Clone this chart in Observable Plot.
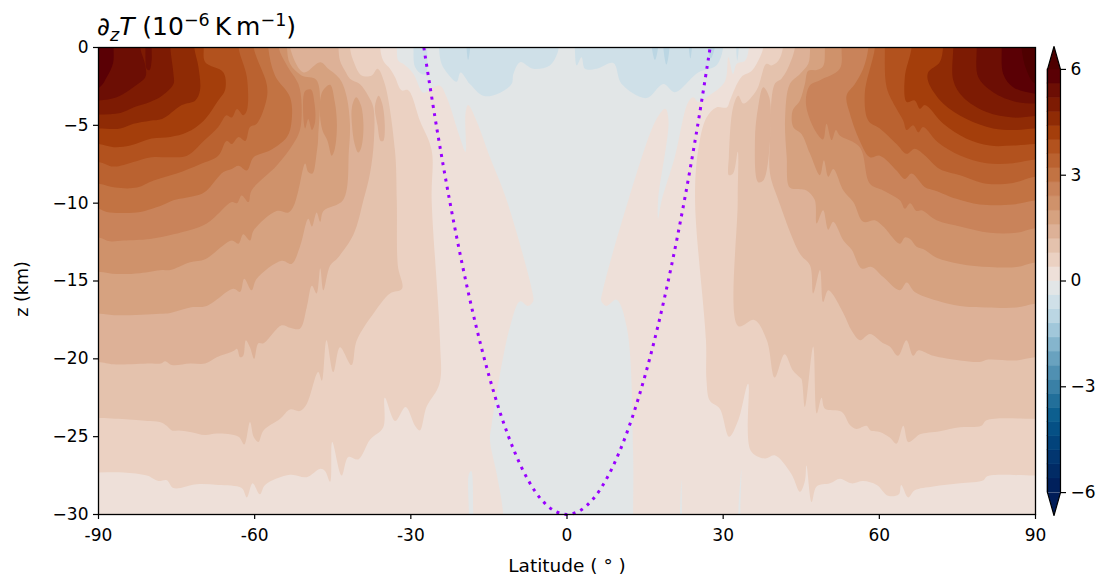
<!DOCTYPE html>
<html><head><meta charset="utf-8">
<script src="https://cdn.jsdelivr.net/npm/d3@7"></script>
<script src="https://cdn.jsdelivr.net/npm/@observablehq/plot@0.6"></script>
<style>
html,body{margin:0;padding:0;background:#fff}
#c{position:relative;width:1111px;height:582px;font-family:"DejaVu Sans",sans-serif;overflow:hidden}
#c svg{position:absolute;left:0;top:0;background:transparent}
#t{position:absolute;left:97px;top:13px;font-size:25px;line-height:28px;color:#000;white-space:nowrap}
#t sub,#t sup{font-size:17.5px;line-height:0}
</style></head><body><div id="c"><div id="t"><i>∂<sub>z</sub>T</i> (10<sup>−6</sup>&#8201;K&#8201;m<sup>−1</sup>)</div></div>
<script>
const levels=[-6,-5.6,-5.2,-4.8,-4.4,-4,-3.6,-3.2,-2.8,-2.4,-2,-1.6,-1.2,-0.8,-0.4,0,0.4,0.8,1.2,1.6,2,2.4,2.8,3.2,3.6,4,4.4,4.8,5.2,5.6,6];
const bandColors=["#001c58","#00205c","#012b65","#023670","#02437b","#055085","#0d5f8f","#226f9a","#3a80a6","#5090b2","#69a2bf","#85b5cd","#a1c7da","#bbd6e3","#cfe0e8","#e2e6e7",
"#eee0d9","#ebd1c2","#e4c2ad","#ddb197","#d6a280","#cf926b","#c9835a","#c27343","#ba6230","#b2521e","#a43e0b","#8f2b05","#7d1b03","#6c0e04","#5a0005","#4e0000"];
const xTicks=[-90,-60,-30,0,30,60,90], yTicks=[0,-5,-10,-15,-20,-25,-30], barTicks=[-6,-3,0,3,6];
// dotted parabola (lat, z)
const edgeLat=[-27.5,-25,-22.5,-20,-17.5,-15,-12.5,-10,-7.5,-5,-2.5,0,2.5,5,7.5,10,12.5,15,17.5,20,22.5,25,27.5];
const edgeZ=[0,-5.21,-9.92,-14.13,-17.85,-21.07,-23.8,-26.03,-27.77,-29.01,-29.75,-30,-29.75,-29.01,-27.77,-26.03,-23.8,-21.07,-17.85,-14.13,-9.92,-5.21,0];
// contour outlines: [latitude, z]
const L56=[[-87.1,0],[-87.2,-1],[-88.4,-1.9],[-90,-2.6]];
const L52=[[-82,0],[-81,-1.15],[-81,-1.9],[-83.3,-2.55],[-86.5,-3.2],[-90,-3.4]];
const L52b=[[-81,0],[-80.7,-1.4],[-80.2,-1.45],[-79.8,-.85],[-79.8,0]];
const L48=[[-76.2,0],[-75.6,-1.7],[-75.6,-2.35],[-77.8,-3.1],[-80.1,-3.5],[-83.3,-3.85],[-85.8,-4.2],[-90,-4.3]];
const L44=[[-71.6,0],[-70.8,-1.25],[-70.5,-2.75],[-71.4,-3.4],[-74,-3.7],[-77.8,-4.6],[-80.1,-4.7],[-83.3,-4.9],[-85.8,-5.2],[-90,-5.2]];
const L40=[[-69.8,0],[-69.5,-.95],[-66,-1.6],[-65.7,-2.75],[-67,-3.4],[-69.8,-4.7],[-73,-5.45],[-76.2,-5.75],[-79.8,-5.85],[-83.9,-6.3],[-87.1,-6.4],[-90,-6.2]];
const L36=[[-63.1,0],[-61.5,-1.9],[-61.5,-4.05],[-62.2,-4.35],[-63.4,-3.95],[-64.4,-4.5],[-65.4,-4.35],[-67,-5.1],[-69.8,-6],[-73,-6.95],[-76.2,-7.05],[-79.8,-7.05],[-83.3,-7.35],[-87.1,-7.65],[-90,-7.35]];
const L32=[[-60.2,0],[-57.7,-2.35],[-57.7,-3.3],[-59.6,-4.9],[-60.9,-5.1],[-61.8,-6],[-63.1,-5.75],[-64.4,-6.2],[-65.4,-6],[-67,-6.95],[-70.5,-7.5],[-75,-8.1],[-79.4,-8.55],[-82.6,-9],[-86.8,-9],[-90,-8.75]];
const L28=[[-57.4,0],[-56.1,-1.8],[-53.2,-3.2],[-52.9,-4.7],[-53.8,-5.75],[-57,-6.6],[-60.2,-7.05],[-61.5,-7.9],[-63.1,-7.6],[-64.4,-7.8],[-66,-8],[-69.2,-9.18],[-70.5,-9.44],[-75.6,-9.82],[-77.8,-10.14],[-82,-10.57],[-85.8,-10.63],[-88.4,-10.57],[-90,-10.36]];
const L24=[[-55.4,0],[-53.8,-1.15],[-51.6,-2.35],[-51,-3.6],[-51.3,-5.3],[-52.6,-6.2],[-55.8,-7.6],[-60.6,-9.18],[-61.2,-9.93],[-62.5,-9.5],[-63.4,-10],[-64.4,-9.93],[-69.2,-11.3],[-75.6,-12],[-80.1,-12.3],[-85.2,-12.4],[-87.8,-12.45],[-90,-12.2]];
const L24b=[[-50.3,-2.8],[-49.2,-2.7],[-48.5,-3.6],[-48.4,-4.8],[-49,-5.3],[-49.7,-4.6],[-50.3,-5.2],[-50.7,-4]];
const L20=[[-53.8,0],[-53.2,-1.05],[-51,-1.8],[-48.1,-2.1],[-47.8,-5.75],[-48.1,-6.8],[-48.9,-8.1],[-49.7,-8],[-50.3,-7.45],[-51.6,-9.18],[-52.6,-10.25],[-53.5,-10.6],[-55.8,-10.5],[-60.2,-11.75],[-60.9,-12.4],[-62.2,-12],[-63.1,-12.6],[-64.4,-12.4],[-66,-12.7],[-69.5,-13.6],[-72.4,-13.8],[-76.2,-14.3],[-77.8,-14.3],[-82,-14.5],[-86.5,-14.55],[-90,-14.4]];
const L20b=[[-46.5,-2.6],[-45.5,-2.4],[-44.6,-3.5],[-44.2,-5],[-44.6,-6.5],[-45.2,-6.95],[-46,-6],[-47,-5.3],[-47.5,-4],[-47.2,-3]];
const L16=[[-53.2,0],[-50.6,-1.6],[-47.4,-.95],[-45.85,-1.37],[-44.25,-1.8],[-43.3,-2.2],[-42.3,-3.2],[-41.7,-4.9],[-41.9,-6.6],[-43,-9.8],[-46.8,-10.5],[-47.4,-11.2],[-48.1,-10.6],[-49,-11.5],[-49.7,-11],[-51.3,-12.8],[-52.9,-13.9],[-54.8,-13.7],[-59.6,-14.85],[-60.6,-15.6],[-62,-14.85],[-62.8,-15.7],[-64.1,-15.5],[-69.2,-16.6],[-72.4,-16.7],[-76.2,-17.05],[-78.2,-17.1],[-86.5,-17.2],[-90,-17.1]];
const L16b=[[-40.5,-3.2],[-39.6,-3.7],[-39.1,-5],[-39.5,-6.4],[-40.1,-6.75],[-40.8,-6.2],[-41.3,-5],[-41.3,-3.8]];
const L12=[[-43.9,0],[-43.6,-.85],[-42.65,-1.5],[-41.7,-2],[-39.8,-2.35],[-38.2,-3.1],[-37.2,-3.85],[-37.1,-6],[-37.85,-8.1],[-39.1,-9.8],[-41,-12],[-44,-13.5],[-45.5,-14],[-46.8,-15.6],[-47.4,-14.2],[-48.1,-15.8],[-49,-15.3],[-50,-16.7],[-51.3,-18.06],[-53.2,-18],[-54.8,-17.85],[-58.3,-19],[-59.3,-19],[-60.1,-20],[-60.9,-19.25],[-61.7,-18.8],[-62.2,-19.8],[-62.8,-19.9],[-63.4,-19.35],[-64.1,-19.5],[-67.3,-19.9],[-69.5,-20.3],[-72.4,-20.3],[-75.9,-20.4],[-77.2,-20.15],[-78,-20.3],[-80.1,-20.3],[-87.1,-20.35],[-90,-20.2]];
const L12b=[[-36.2,-3.1],[-35.5,-3.6],[-35,-5],[-35.3,-6],[-35.8,-6],[-36.4,-5],[-36.9,-3.8]];
const L08=[[-41.7,0],[-41.05,-.85],[-39.45,-1.8],[-37.5,-1.8],[-36.4,-1.37],[-35,-2.35],[-33.05,-6.6],[-32.7,-9.8],[-32.5,-14],[-31.7,-15.5],[-34,-15.8],[-37,-17],[-40.4,-18.82],[-41.4,-20.4],[-43.6,-19.25],[-44.9,-20.85],[-46.2,-18.8],[-47.1,-21.4],[-47.8,-20.85],[-50,-22.9],[-51.3,-23.35],[-53.2,-23.25],[-55.1,-23.85],[-58.3,-24.6],[-59.3,-25.35],[-60.2,-25],[-60.9,-24.05],[-62,-25.5],[-63.1,-25],[-67.3,-24.8],[-69.5,-24.9],[-72.4,-24.7],[-74.6,-24.6],[-75.9,-24.6],[-76.9,-24.3],[-77.8,-24.1],[-80.1,-24],[-90,-23.8]];
const L04=[[-35.9,0],[-35.3,-.85],[-34,-1.37],[-33.05,-1.9],[-31.8,-2.75],[-30.5,-2.75],[-28.25,-4.7],[-26,-6.6],[-26,-9.8],[-24.4,-18.82],[-24.5,-21.6],[-27,-23.1],[-28.25,-24.6],[-29.2,-24.3],[-31,-23.1],[-33,-24],[-35,-22.5],[-35.3,-24.4],[-37.85,-25.2],[-40.1,-26.46],[-42,-26.3],[-43.3,-27.5],[-45.1,-25.35],[-45.5,-27.9],[-46.5,-27.2],[-47.4,-27.06],[-50,-27.6],[-53.2,-27.45],[-58,-28.1],[-59,-28.7],[-60.4,-28],[-61.5,-28.9],[-62.5,-28.3],[-67,-28.1],[-71.1,-28.05],[-75.6,-28.3],[-76.9,-27.8],[-78.5,-27.85],[-80.7,-27.5],[-85.2,-27.3],[-90,-27.3]];
const L00=[[-32.7,0],[-32.4,-.85],[-31.45,-1.05],[-29.5,-1.7],[-27.6,-2.9],[-25.7,-2.55],[-24.4,-2.45],[-23.1,-3.2],[-20.6,-5.75],[-19.5,-6.7],[-19.5,-4.25],[-19,-3.7],[-17.4,-4.7],[-14.8,-7.05],[-11.6,-9.8],[-6.6,-15.8],[-6.5,-16.3],[-7.5,-16.6],[-9,-16.3],[-11,-18],[-14.5,-24.3],[-14.8,-25.2],[-13.5,-27.4],[-12.25,-30]];
const R60=[[87.3,0],[88.3,-1.47],[90,-2.33]];
const R56=[[83.5,0],[83.8,-1.7],[85.7,-2.55],[90,-2.97]];
const R52=[[78.7,0],[79,-1.9],[81.85,-2.87],[86.35,-3.5],[90,-3.6]];
const R48=[[74.2,0],[74.2,-2.1],[76.1,-3.2],[80.6,-4.15],[85.7,-4.5],[90,-4.4]];
const R44=[[72.25,0],[71.6,-.94],[69.4,-1.58],[69.4,-2.2],[72.25,-3.6],[76.75,-4.6],[81.85,-5.2],[86.35,-5.3],[90,-5.2]];
const R40=[[66.2,0],[64.9,-1.9],[65.25,-3.5],[66.8,-3.4],[67.8,-3.94],[68.75,-3.7],[72.3,-4.9],[76.75,-5.86],[81.2,-6.3],[85.7,-6.3],[90,-6.2]];
const R36=[[61.05,0],[61.4,-2.55],[63.3,-3.94],[64.6,-4.7],[65.25,-5.3],[66.5,-5],[67.5,-5.45],[68.4,-5.1],[71.3,-6.1],[75.5,-6.93],[80.6,-7.43],[85.7,-7.43],[90,-7.2]];
const R32=[[59.15,0],[57.2,-2.97],[57.9,-4.7],[60.1,-5.2],[63.3,-6.2],[65.25,-6.83],[66.8,-6.5],[68.75,-6.93],[71.6,-7.8],[75.5,-8.2],[80.6,-8.75],[85.7,-8.7],[90,-8.3]];
const R28=[[57.9,0],[56.9,-1.37],[55.3,-2.35],[53.7,-3.1],[54.35,-4.26],[56.25,-6],[58.2,-7.05],[60.1,-6.95],[63.3,-7.9],[64.9,-8.45],[66.2,-8.1],[68.75,-8.97],[70.65,-9.18],[74.8,-9.72],[79.3,-10.08],[85.7,-10.08],[90,-9.82]];
const R24=[[52.75,0],[52.4,-1.37],[48.6,-2.1],[46.65,-2.44],[45.9,-3.6],[47.6,-5.3],[49.2,-5.9],[49.85,-4.9],[50.85,-5.95],[51.65,-5.3],[52.4,-5.65],[56.25,-6.4],[58.2,-8.75],[60.75,-9.18],[63.95,-9.82],[64.9,-10.36],[65.9,-10],[67.15,-10.5],[68.1,-10.46],[71,-11.1],[75.5,-11.5],[81.2,-11.9],[86.35,-11.9],[90,-11.6]];
const R20=[[49.55,0],[49.2,-1.2],[47.95,-1.45],[46.35,-1.5],[45.7,-2.35],[44.75,-3.4],[43.35,-4.05],[43.45,-5.1],[45.05,-5.55],[46.65,-6.8],[48.6,-8.2],[49.35,-7.25],[50.2,-8.3],[51.15,-7.8],[53.1,-9.18],[55,-9.93],[56.9,-11.2],[59.15,-11.1],[60.75,-11.5],[63.95,-12.6],[64.9,-12.2],[65.9,-12.3],[67.15,-12.8],[68.4,-12.95],[71,-13.5],[75.5,-13.9],[81.2,-14.1],[86.35,-14.1],[90,-13.8]];
const R16=[[46.7,0],[46.35,-1.05],[44.75,-1.7],[42.8,-2.35],[41.9,-4.5],[42.2,-7],[42.8,-9],[44.75,-9.1],[46,-9.18],[47.6,-9.8],[47.95,-11.3],[49.2,-10.45],[50.2,-11.7],[51.15,-11.2],[53.1,-12.4],[54.7,-13],[56.6,-14.2],[58.5,-14.1],[60.75,-14.75],[63.95,-15.6],[65.25,-15.1],[66.8,-15.7],[71,-16.25],[75.5,-16.6],[80.6,-16.7],[86.35,-16.7],[90,-16.45]];
const R12=[[43.8,0],[42.2,-1.5],[41.2,-2],[39.9,-2.35],[39,-6],[39,-8.1],[40.6,-9.8],[44.75,-13.25],[46.7,-14],[47.3,-15.8],[48.6,-14.3],[49.2,-16.35],[50.2,-15.6],[53,-17],[54.7,-18.2],[56.3,-18.8],[58.2,-18.4],[60.75,-19],[62,-19.2],[63.6,-19.8],[65.2,-18.8],[66.5,-19.8],[67.5,-19.45],[70.35,-19.8],[75.5,-20.1],[79.3,-20.2],[80.9,-20.05],[86.35,-20.1],[90,-19.9]];
const R12b=[[37.7,-2.55],[38.85,-3.2],[39,-6],[37.7,-8.55],[36.7,-8.65],[36.1,-6],[36.7,-3.85]];
const R08=[[41.5,0],[40.6,-.85],[39.3,-1.15],[38.3,-1.05],[36.4,-2.75],[33.9,-3.6],[32.9,-3.1],[31.9,-3.85],[31.1,-7],[31.1,-8.2],[31.9,-8.1],[32.8,-6.7],[32.8,-9.8],[32.9,-17.9],[36,-17.5],[38.4,-18.82],[39.9,-21.2],[41.8,-19.7],[43.4,-20.75],[44.75,-21.2],[45.05,-21.3],[45.7,-23.1],[47.3,-19.2],[48,-23.5],[48.9,-22.5],[49.55,-23.2],[52.75,-23.4],[54.35,-24.25],[55.6,-24.5],[57.55,-24.3],[58.3,-24.6],[60.1,-24.7],[62,-25.05],[63.3,-25.45],[64.6,-24.3],[65.55,-25.35],[66.8,-25.1],[67.8,-24.85],[71.6,-24.65],[75.5,-24.4],[79.6,-24.3],[80.6,-23.95],[90,-23.85]];
const R04=[[37.7,0],[37.1,-.6],[35.5,-1.5],[33.5,-1.9],[31.3,-3.4],[30.7,-3.85],[28.7,-3.85],[26.8,-4.5],[25.2,-6.6],[24.6,-9.8],[26.7,-18.82],[26.8,-21.4],[27.45,-22.7],[29.35,-23.2],[31.15,-25],[32.9,-23.95],[34.8,-21.6],[35.3,-25.9],[38,-26.4],[39.9,-26.2],[43.1,-27.4],[44.75,-28.55],[45.7,-27.85],[46,-26.85],[47,-29.2],[47.95,-28.2],[50.5,-28],[52.45,-27.7],[54.65,-28],[56.9,-27.85],[59.5,-28.1],[61.7,-28.8],[63.75,-28.7],[64.2,-28.1],[65.55,-28.9],[66.8,-28.45],[70.35,-28.2],[75.5,-28],[80,-27.8],[80.7,-27.55],[90,-27.5]];
const R00=[[34.95,0],[34.2,-.85],[32.6,-1.05],[31.9,-1.7],[31,-.62],[30.3,-2.2],[26.8,-3.2],[25.2,-3.5],[24.3,-3.2],[23.3,-3.5],[20.7,-7.05],[18.2,-9.8],[17.5,-11],[17.5,-9.8],[19.5,-4.7],[18.9,-3.94],[17.2,-4.6],[11.8,-9.8],[6.9,-15.6],[6.6,-16.3],[7.6,-16.6],[9.5,-16.2],[11.5,-18],[12.7,-26],[12.7,-30]];
const blueL=[[-29.5,0],[-29.2,-1.25],[-27.9,-1.7],[-27.1,-1.7],[-26.85,0]];
const blueM=[[-24.6,0],[-24.1,-1.05],[-23.1,-1.6],[-21.2,-2.2],[-20.45,-1.6],[-18.65,-2.35],[-16.1,-3.1],[-13.5,-3],[-10.65,-2.35],[-10.3,-1.7],[-9,-.94],[-6.5,-1.37],[-3.3,-1.15],[-2,-.5],[-1.6,0]];
const blueR=[[1.5,0],[1.86,-1.15],[2.8,-.62],[3.46,-1.37],[5.7,-1.37],[8.9,-1],[10.5,-2.35],[15.3,-3.25],[18.5,-2.35],[20.7,-2.87],[25.2,-1.6],[28.7,-1.15],[30,0]];
const blueS=[[32.5,0],[32.7,-.85],[33,0]];
const deep1=[[-19.3,0],[-19,-.8],[-18.6,0]];
const deep2=[[16.3,0],[16.9,-.8],[17.5,0]];
const deep3=[[18.5,0],[19.1,-1.1],[19.7,0]];
const deep4=[[23.4,0],[23.7,-.7],[24,0]];
const deep5=[[27,0],[27.6,-.7],[28.4,0]];
const gapA=[[-18.85,-30],[-18.85,-27.4],[-18.4,-27.2],[-18,-30]];
const gapB=[[21.7,-30],[22,-27.8],[22.1,-30]];
const gapC=[[32.9,-30],[33.5,-27.1],[33.3,-30]];
// closing points lie beyond the frame, where the clip hides them
const above=1.5, below=-33, beyond=96;
const cornerL=[[-beyond,above]], cornerR=[[beyond,above]];
function reach(pts){
  const out=pts.slice(), a=pts[0], b=pts[pts.length-1];
  if(a[1]===0) out.unshift([a[0],above]);
  if(a[1]===-30) out.unshift([a[0],below]);
  if(b[1]===0) out.push([b[0],above]);
  if(b[1]===-30) out.push([b[0],below]);
  if(Math.abs(b[0])===90) out.push([Math.sign(b[0])*beyond,b[1]]);
  return out;
}
const L=p=>reach(p).concat(cornerL), R=p=>reach(p).concat(cornerR);
const stack=[
 [-0.8,reach(blueL)],[-0.8,reach(blueM)],[-0.8,reach(blueR)],[-0.8,reach(blueS)],[-1.2,reach(deep1)],[-1.2,reach(deep2)],[-1.2,reach(deep3)],[-1.2,reach(deep4)],[-1.2,reach(deep5)],
 [0,reach(L00).concat([[-beyond,below],[-beyond,above]])],[0,reach(R00).concat([[beyond,below],[beyond,above]])],
 [-0.4,reach(gapA)],[-0.4,reach(gapB)],[-0.4,reach(gapC)],
 [0.4,L(L04)],[0.4,R(R04)],
 [0.8,L(L08)],[0.8,R(R08)],
 [1.2,L(L12)],[1.2,R(R12)],[1.2,L12b],[1.2,R12b],
 [1.6,L(L16)],[1.6,R(R16)],[1.6,L16b],
 [2,L(L20)],[2,R(R20)],[2,L20b],
 [2.4,L(L24)],[2.4,R(R24)],[2.4,L24b],
 [2.8,L(L28)],[2.8,R(R28)],
 [3.2,L(L32)],[3.2,R(R32)],
 [3.6,L(L36)],[3.6,R(R36)],
 [4,L(L40)],[4,R(R40)],
 [4.4,L(L44)],[4.4,R(R44)],
 [4.8,L(L48)],[4.8,R(R48)],
 [5.2,L(L52)],[5.2,R(R52)],[5.2,reach(L52b)],
 [5.6,L(L56)],[5.6,R(R56)],
 [6,R(R60)]
];
const rows=stack.flatMap(([level,pts],id)=>pts.map(([lat,z])=>({id,level,lat,z})));
const edge=edgeLat.map((lat,i)=>({lat,z:edgeZ[i]}));
const minus=d=>String(d).replace("-","\u2212");
const colorOpt={type:"threshold",domain:levels,range:bandColors};
const main=Plot.plot({
 width:1111,height:582,marginLeft:98,marginRight:76,marginTop:47,marginBottom:68,
 style:{fontFamily:'"DejaVu Sans",sans-serif',fontSize:"17px",color:"#000",background:"transparent"},
 x:{domain:[-90,90],label:null},
 y:{domain:[-30,0],label:null},
 color:colorOpt,
 marks:[
  Plot.frame({fill:bandColors[15],stroke:"none"}),
  Plot.line(rows,{x:"lat",y:"z",z:"id",fill:"level",stroke:"none",curve:"catmull-rom-closed",clip:true}),
  Plot.line(edge,{x:"lat",y:"z",stroke:"#9900ff",strokeWidth:3,strokeDasharray:"3,5.3",strokeLinecap:"butt",curve:"catmull-rom"}),
  Plot.frame({stroke:"#000",strokeWidth:1.3}),
  Plot.axisX({ticks:xTicks,tickFormat:d=>String(d),tickSize:5,tickPadding:9,label:null,strokeWidth:1.2}),
  Plot.axisY({ticks:yTicks,tickFormat:minus,tickSize:5,tickPadding:5,label:null,strokeWidth:1.2}),
  Plot.text(["Latitude ( \u00b0 )"],{frameAnchor:"bottom",dy:57,fontSize:18.5}),
  Plot.text(["z (km)"],{frameAnchor:"left",dx:-76,dy:8,rotate:-90,textAnchor:"middle",fontSize:17.5})
 ]
});
document.getElementById("c").appendChild(main);
const barBands=levels.slice(0,-1).map((l,i)=>({lo:l,hi:levels[i+1]}));
const capTop=[{x:0,y:6},{x:.5,y:6.65},{x:1,y:6}], capBot=[{x:0,y:-6},{x:.5,y:-6.65},{x:1,y:-6}];
const outline=[{x:0,y:6},{x:.5,y:6.65},{x:1,y:6},{x:1,y:-6},{x:.5,y:-6.65},{x:0,y:-6},{x:0,y:6}];
const bar=Plot.plot({
 width:1111,height:582,marginLeft:1047,marginRight:51,marginTop:46,marginBottom:67,
 style:{fontFamily:'"DejaVu Sans",sans-serif',fontSize:"17px",color:"#000",background:"transparent"},
 x:{domain:[0,1],axis:null},
 y:{domain:[-6.65,6.65],label:null,axis:null},
 color:colorOpt,
 marks:[
  Plot.rect(barBands,{x1:0,x2:1,y1:"lo",y2:"hi",fill:"lo",stroke:"lo",strokeWidth:.6}),
  Plot.line(capTop,{x:"x",y:"y",fill:()=>6,z:null,stroke:"none"}),
  Plot.line(capBot,{x:"x",y:"y",fill:()=>-7,z:null,stroke:"none"}),
  Plot.line(outline,{x:"x",y:"y",stroke:"#000",strokeWidth:1.2}),
  Plot.axisY({anchor:"right",ticks:barTicks,tickFormat:minus,tickSize:5,tickPadding:5,label:null,strokeWidth:1.2})
 ]
});
document.getElementById("c").appendChild(bar);
</script></body></html>
